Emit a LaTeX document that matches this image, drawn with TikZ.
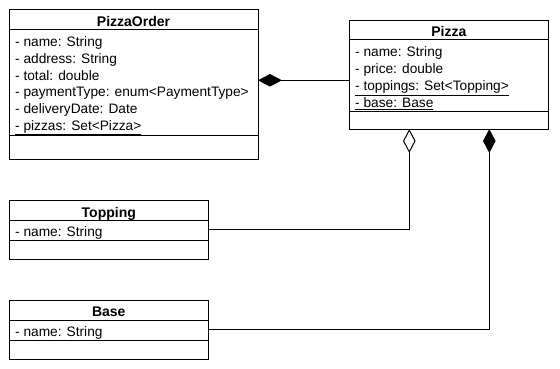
\documentclass[tikz,border=0pt]{standalone}
\usepackage{fontspec}
\setmainfont{Liberation Sans}
\usetikzlibrary{arrows.meta}
\begin{document}
\begin{tikzpicture}[x=1pt,y=-1pt,
  classbox/.style={draw=black, line width=1pt, fill=white, anchor=north west, inner sep=0pt, outer sep=0pt},
  divider/.style={draw=black, line width=1pt},
  ctitle/.style={font=\fontsize{14}{16}\selectfont\bfseries, anchor=base, inner sep=0pt},
  attr/.style={font=\fontsize{13.7}{16}\selectfont, anchor=base west, inner sep=0pt},
  link/.style={draw=black, line width=1pt},
  comp/.style={link, {Diamond[length=24pt, width=12.5pt, fill=black]}-},
  aggr/.style={link, {Diamond[open, length=24pt, width=12.5pt, fill=white]}-}
]
\useasboundingbox (0,0) rectangle (560,369);
\fill[white] (0,0) rectangle (560,369);

% PizzaOrder
\node[classbox, minimum width=249pt, minimum height=149pt] (po) at (9,10) {};
\draw[divider] (9,29.3) -- (258,29.3);
\draw[divider] (9,135) -- (258,135);
\node[ctitle] (potitle) at (133.5,26.7) {PizzaOrder};
\node[attr] (po1) at (15,47) {- name: String};
\node[attr] (po2) at (15,63.6) {- address: String};
\node[attr] (po3) at (15,80.2) {- total: double};
\node[attr] (po4) at (15,96.8) {- paymentType: enum<PaymentType>};
\node[attr] (po5) at (15,113.4) {- deliveryDate: Date};
\node[attr] (po6) at (15,130) {\underline{- pizzas: Set<Pizza>}};

% Pizza
\node[classbox, minimum width=199pt, minimum height=108.3pt] (pz) at (349.3,20.7) {};
\draw[divider] (349.3,40) -- (548.3,40);
\draw[divider] (349.3,111.3) -- (548.3,111.3);
\node[ctitle] (pztitle) at (448.8,36.7) {Pizza};
\node[attr] (pz1) at (355,57) {- name: String};
\node[attr] (pz2) at (355,73.7) {- price: double};
\node[attr] (pz3) at (355,90.8) {\underline{- toppings: Set<Topping>}};
\node[attr] (pz4) at (355,107.8) {\underline{- base: Base}};

% Topping
\node[classbox, minimum width=199.7pt, minimum height=59pt] (tp) at (9,200.3) {};
\draw[divider] (9,220.3) -- (208.7,220.3);
\draw[divider] (9,240.3) -- (208.7,240.3);
\node[ctitle] (tptitle) at (108.8,217.3) {Topping};
\node[attr] (tp1) at (15,236.7) {- name: String};

% Base
\node[classbox, minimum width=199.7pt, minimum height=59pt] (bs) at (9,300.3) {};
\draw[divider] (9,320.7) -- (208.7,320.7);
\draw[divider] (9,340.3) -- (208.7,340.3);
\node[ctitle] (bstitle) at (108.8,316.7) {Base};
\node[attr] (bs1) at (15,336.7) {- name: String};

% connectors
\coordinate (poend) at (po.north east |- 0,80.3);
\coordinate (pzend) at (pz.north west |- 0,80.3);
\draw[comp] (poend) -- (pzend);
\coordinate (pzagg) at (pz.south west -| 409.3,0);
\draw[aggr] (pzagg) |- (tp.east);
\coordinate (pzcomp) at (pz.south west -| 489.3,0);
\draw[comp] (pzcomp) |- (bs.east);
\end{tikzpicture}
\end{document}
